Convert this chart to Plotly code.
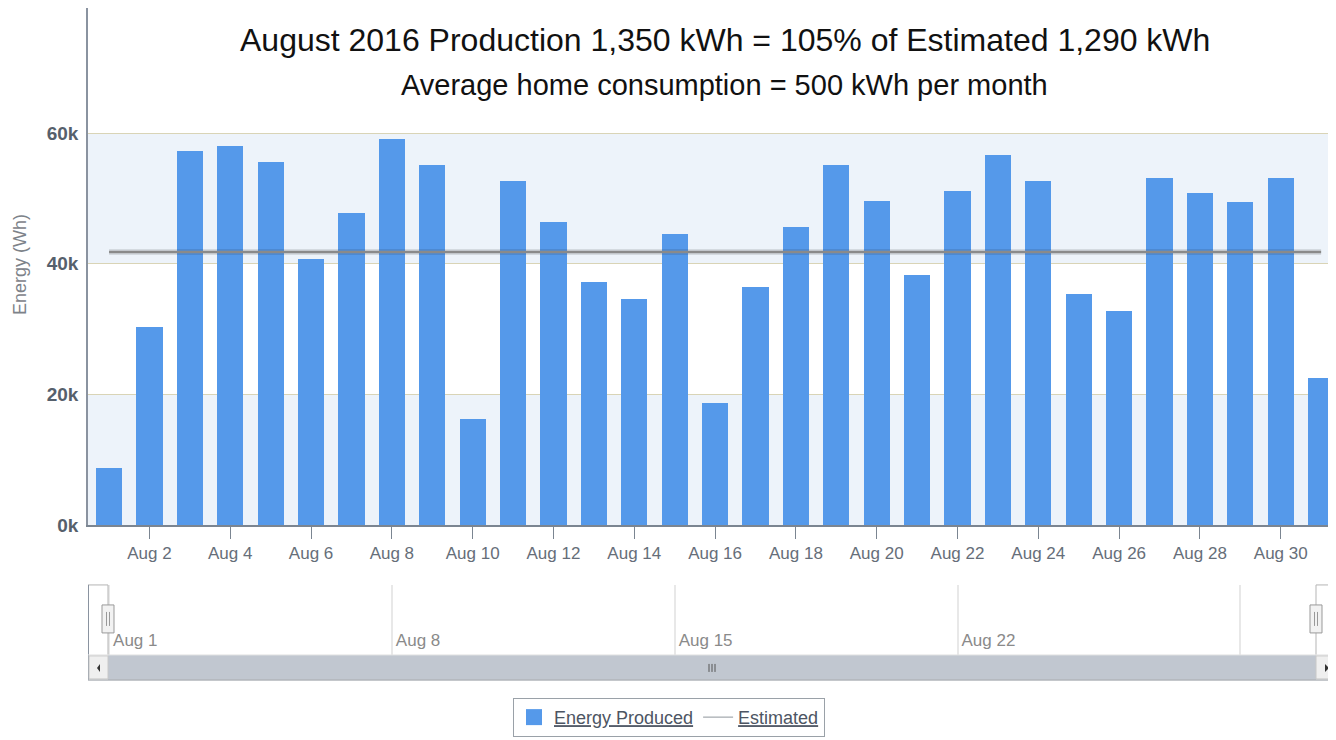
"""August 2016 daily solar production (Highcharts-stock style) in Plotly."""

import plotly.graph_objects as go

DAYS = [f"2016-08-{d:02d}" for d in range(1, 32)]
ENERGY_WH = [
    8700, 30300, 57200, 58000, 55600, 40700, 47800, 59100, 55100, 16200,
    52700, 46400, 37200, 34600, 44500, 18700, 36400, 45600, 55100, 49600,
    38300, 51100, 56600, 52700, 35400, 32800, 53100, 50800, 49400, 53100,
    22500,
]
ESTIMATED_WH = 41800
Y_TICKS = [0, 20000, 40000, 60000]
Y_TICK_TEXT = ["0k", "20k", "40k", "60k"]
NAV_TICKS = ["2016-08-01", "2016-08-08", "2016-08-15", "2016-08-22", "2016-08-29"]
NAV_TICK_TEXT = ["Aug 1", "Aug 8", "Aug 15", "Aug 22", ""]

TITLE = "August 2016 Production 1,350 kWh = 105% of Estimated 1,290 kWh"
SUBTITLE = "Average home consumption = 500 kWh per month"

COLORS = {
    "bar": "#5599ea",
    "est": "#8a8a8a",
    "band": "#edf3fa",
    "grid": "#d9d4b6",
    "axis": "#7b8591",
    "label": "#5b6470",
    "nav_grid": "#e8e8e8",
    "scroll": "#c1c7d0",
}

# the page sits 8px in from the corner and the capture squeezes it slightly vertically
OFF_X, OFF_Y, S_Y = 8, 8, 0.9855
W, H = 1336 - OFF_X, 744
FONT = "Liberation Sans, Arial, sans-serif"
DAY_MS = 86400000
X_RANGE = ["2016-07-31 11:30", "2016-08-31 08:50"]


def fy(y):
    """screen row -> figure pixel row"""
    return y / S_Y - OFF_Y


def py(y):
    """screen row -> paper y"""
    return 1 - fy(y) / H


def px_(x):
    """screen column -> paper x (clipped to the figure)"""
    return max(0, min((x - OFF_X) / W, 1))


fig = go.Figure()

fig.add_trace(
    go.Bar(
        x=DAYS,
        y=ENERGY_WH,
        name="Energy Produced",
        marker={"color": COLORS["bar"], "line": {"width": 0}},
        width=0.65 * DAY_MS,
        showlegend=False,
    )
)
# soft shadow under the estimate line
fig.add_trace(
    go.Scatter(
        x=[DAYS[0], DAYS[-1]],
        y=[ESTIMATED_WH, ESTIMATED_WH],
        mode="lines",
        line={"color": "rgba(0,0,0,0.10)", "width": 6},
        showlegend=False,
        hoverinfo="skip",
    )
)
fig.add_trace(
    go.Scatter(
        x=[DAYS[0], DAYS[-1]],
        y=[ESTIMATED_WH, ESTIMATED_WH],
        mode="lines",
        name="Estimated",
        line={"color": COLORS["est"], "width": 2.5},
        showlegend=False,
    )
)
# legend entries (bigger square, thin line like the original)
fig.add_trace(
    go.Scatter(
        x=[None], y=[None], mode="markers", name="Energy Produced",
        marker={"symbol": "square", "size": 21, "color": COLORS["bar"]},
    )
)
fig.add_trace(
    go.Scatter(
        x=[None], y=[None], mode="lines", name="Estimated",
        line={"color": "#8f959c", "width": 1},
    )
)
# invisible trace to set up the navigator axis
fig.add_trace(
    go.Scatter(
        x=[DAYS[0], DAYS[-1]],
        y=[0, 0],
        mode="lines",
        line={"width": 0},
        xaxis="x2",
        yaxis="y2",
        showlegend=False,
        hoverinfo="skip",
    )
)

shapes = []
# alternating plot bands
for y0, y1 in [(0, 20000), (40000, 60000)]:
    shapes.append(
        dict(type="rect", xref="paper", yref="y", x0=px_(88), x1=1, y0=y0, y1=y1,
             fillcolor=COLORS["band"], line={"width": 0}, layer="below")
    )

# navigator frame + scrollbar
nav_top, nav_bot, sb_bot = 585, 655, 680
line_gray = {"color": "#b5b5b5", "width": 1}
shapes += [
    dict(type="line", xref="paper", yref="paper", x0=px_(88), x1=px_(108), y0=py(nav_top), y1=py(nav_top), line=line_gray),
    dict(type="line", xref="paper", yref="paper", x0=px_(1316), x1=1, y0=py(nav_top), y1=py(nav_top), line=line_gray),
    dict(type="line", xref="paper", yref="paper", x0=px_(108), x1=px_(108), y0=py(nav_top), y1=py(nav_bot), line=line_gray),
    dict(type="line", xref="paper", yref="paper", x0=px_(1316), x1=px_(1316), y0=py(nav_top), y1=py(nav_bot), line=line_gray),
    dict(type="line", xref="paper", yref="paper", x0=px_(88.5), x1=px_(88.5), y0=py(nav_top), y1=py(sb_bot), line={"color": "#8a93a0", "width": 1}),
    dict(type="rect", xref="paper", yref="paper", x0=px_(108), x1=px_(1316), y0=py(sb_bot), y1=py(nav_bot),
         fillcolor=COLORS["scroll"], line={"width": 0}),
    dict(type="line", xref="paper", yref="paper", x0=px_(88), x1=1, y0=py(sb_bot), y1=py(sb_bot), line={"color": "#b0b4ba", "width": 1.5}),
    dict(type="line", xref="paper", yref="paper", x0=px_(88), x1=1, y0=py(nav_bot), y1=py(nav_bot), line={"color": "#e4e4e4", "width": 1}),
    dict(type="rect", xref="paper", yref="paper", x0=px_(89), x1=px_(108), y0=py(sb_bot - 1), y1=py(nav_bot + 1),
         fillcolor="#efefef", line={"color": "#c8c8c8", "width": 1}),
    dict(type="rect", xref="paper", yref="paper", x0=px_(1316), x1=0.9996, y0=py(sb_bot - 1), y1=py(nav_bot + 1),
         fillcolor="#efefef", line={"color": "#c8c8c8", "width": 1}),
    dict(type="path", xref="paper", yref="paper",
         path=f"M {px_(100)} {py(664)} L {px_(97)} {py(668)} L {px_(100)} {py(672)} Z",
         fillcolor="#333", line={"width": 0}),
    dict(type="path", xref="paper", yref="paper",
         path=f"M {px_(1325)} {py(664)} L {px_(1329)} {py(668)} L {px_(1325)} {py(672)} Z",
         fillcolor="#333", line={"width": 0}),
]
# scrollbar grip
for gx in (709, 712, 715):
    shapes.append(dict(type="line", xref="paper", yref="paper", x0=px_(gx), x1=px_(gx),
                       y0=py(664), y1=py(672), line={"color": "#555", "width": 1}))
# navigator handles
for hx in (108, 1316):
    shapes.append(dict(type="rect", xref="paper", yref="paper", x0=px_(hx - 6), x1=px_(hx + 6),
                       y0=py(633), y1=py(605), fillcolor="#f2f2f2", line={"color": "#999", "width": 1}))
    for gx in (hx - 1.5, hx + 1.5):
        shapes.append(dict(type="line", xref="paper", yref="paper", x0=px_(gx), x1=px_(gx),
                           y0=py(626), y1=py(612), line={"color": "#999", "width": 1}))

annotations = [
    dict(text=TITLE, x=px_(725), y=py(40), xref="paper", yref="paper", showarrow=False,
         font={"family": FONT, "size": 32, "color": "#111"}, xanchor="center", yanchor="middle"),
    dict(text=SUBTITLE, x=px_(724), y=py(85), xref="paper", yref="paper", showarrow=False,
         font={"family": FONT, "size": 29, "color": "#111"}, xanchor="center", yanchor="middle"),
    dict(text="Energy (Wh)", x=0, y=py(265), xref="paper", yref="paper", showarrow=False,
         textangle=-90, font={"family": FONT, "size": 18, "color": "#7d8289"},
         xanchor="left", yanchor="middle"),
]

# main plot top sits at the page edge: extend the range to keep 60k at row 133
y_top = fy(525) / (fy(525) - fy(133)) * 60000

fig.update_layout(
    width=W,
    height=H,
    autosize=False,
    margin={"l": 0, "r": 0, "t": 0, "b": 0},
    paper_bgcolor="white",
    plot_bgcolor="rgba(0,0,0,0)",
    font={"family": FONT, "color": COLORS["label"]},
    bargap=0,
    shapes=shapes,
    annotations=annotations,
    xaxis={
        "domain": [px_(88), 1],
        "range": X_RANGE,
        "type": "date",
        "tick0": "2016-08-02",
        "dtick": 2 * DAY_MS,
        "tickformat": "%b %-d",
        "ticks": "outside",
        "ticklen": 12,
        "tickcolor": COLORS["axis"],
        "tickfont": {"size": 17, "color": "#666e79"},
        "showgrid": False,
        "showline": True,
        "linecolor": COLORS["axis"],
        "linewidth": 1.5,
        "anchor": "y",
        "fixedrange": True,
    },
    yaxis={
        "domain": [py(525), 1],
        "range": [0, y_top],
        "tickvals": Y_TICKS,
        "ticktext": Y_TICK_TEXT,
        "tickfont": {"size": 19, "color": "#56606c", "weight": "bold"},
        "ticklabelstandoff": 4,
        "showgrid": True,
        "gridcolor": COLORS["grid"],
        "gridwidth": 1.2,
        "zeroline": False,
        "showline": True,
        "linecolor": "#8a93a0",
        "linewidth": 1.5,
        "anchor": "x",
        "fixedrange": True,
    },
    xaxis2={
        "domain": [px_(88), 1],
        "range": X_RANGE,
        "type": "date",
        "tickvals": NAV_TICKS,
        "ticktext": NAV_TICK_TEXT,
        "ticklabelposition": "inside right",
        "ticklabelshift": 4,
        "tickfont": {"size": 17, "color": "#8a8a8a"},
        "ticks": "",
        "showgrid": True,
        "gridcolor": COLORS["nav_grid"],
        "gridwidth": 1.5,
        "showline": False,
        "zeroline": False,
        "anchor": "y2",
        "fixedrange": True,
    },
    yaxis2={
        "domain": [py(nav_bot), py(nav_top)],
        "range": [0, 1],
        "visible": False,
        "anchor": "x2",
        "fixedrange": True,
    },
    legend={
        "orientation": "h",
        "x": px_(669),
        "xanchor": "center",
        "y": py(698),
        "yanchor": "top",
        "bgcolor": "white",
        "bordercolor": "#9aa1a8",
        "borderwidth": 1,
        "font": {"size": 18, "color": "#4d5563", "lineposition": "under"},
        "tracegroupgap": 0,
    },
    showlegend=True,
)

fig.write_html("out.html")
